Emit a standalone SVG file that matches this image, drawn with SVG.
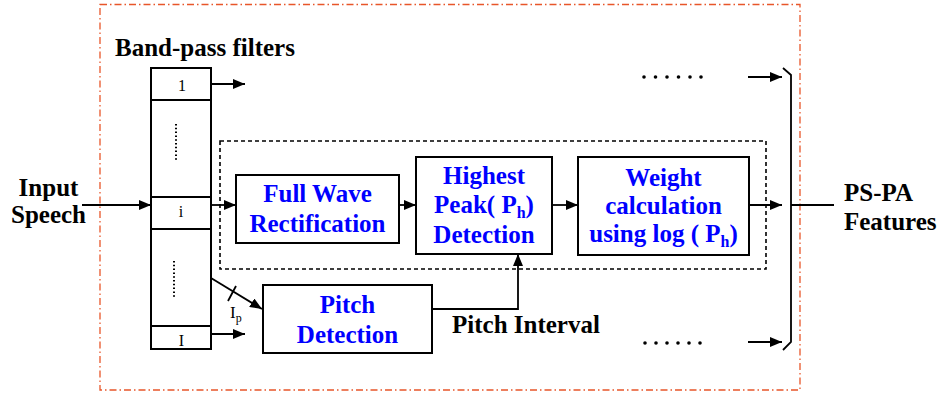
<svg xmlns="http://www.w3.org/2000/svg" width="944" height="394" viewBox="0 0 944 394">
<style>
.box{fill:#fff;stroke:#000;stroke-width:2}
.ln{fill:none;stroke:#000;stroke-width:1.8}
.lbl{font-family:'Liberation Serif',serif;font-weight:bold;font-size:25px;fill:#000}
.blue{font-family:'Liberation Serif',serif;font-weight:bold;font-size:25px;fill:#0000FF;text-anchor:middle}
.sm{font-family:'Liberation Serif',serif;font-size:16px;fill:#000;text-anchor:middle}
.dot{fill:#000}
</style>
<defs>
<marker id="ah" markerUnits="userSpaceOnUse" markerWidth="12" markerHeight="10" refX="12" refY="5" orient="auto">
<path d="M0,0 L12,5 L0,10 z" fill="#000"/>
</marker>
</defs>
<rect width="944" height="394" fill="#fff"/>
<g id="frame">
<rect x="100" y="4.5" width="700" height="385.5" fill="none" stroke="#E8562A" stroke-width="1.3" stroke-dasharray="7 3 1.5 3"/>
<rect x="220" y="141" width="546" height="128" fill="none" stroke="#000" stroke-width="1.6" stroke-dasharray="4 3"/>
</g>
<g id="bandpass">
<text class="lbl" x="115" y="56">Band-pass filters</text>
<rect class="box" x="151" y="68" width="60" height="281"/>
<line class="ln" x1="151" y1="100" x2="211" y2="100"/>
<line class="ln" x1="151" y1="197" x2="211" y2="197"/>
<line class="ln" x1="151" y1="229" x2="211" y2="229"/>
<line class="ln" x1="151" y1="326" x2="211" y2="326"/>
<text class="sm" x="182" y="91">1</text>
<text class="sm" x="181" y="217">i</text>
<text class="sm" x="181.5" y="346">I</text>
<line x1="176" y1="124" x2="176" y2="162" stroke="#000" stroke-width="2" stroke-dasharray="1.5 2.3"/>
<line x1="174" y1="261" x2="174" y2="298" stroke="#000" stroke-width="2" stroke-dasharray="1.5 2.3"/>
</g>
<g id="input">
<text class="lbl" x="48.5" y="196" text-anchor="middle">Input</text>
<text class="lbl" x="48.5" y="223" text-anchor="middle">Speech</text>
</g>
<g id="fullwave">
<rect class="box" x="236" y="175" width="163" height="68"/>
<text class="blue" x="317.5" y="202">Full Wave</text>
<text class="blue" x="317.5" y="232">Rectification</text>
</g>
<g id="highest">
<rect class="box" x="416" y="157" width="136" height="97"/>
<text class="blue" x="484" y="184">Highest</text>
<text class="blue" x="484" y="213">Peak( P<tspan font-size="16" dy="5">h</tspan><tspan dy="-5">)</tspan></text>
<text class="blue" x="484" y="243">Detection</text>
</g>
<g id="weight">
<rect class="box" x="578" y="157" width="171" height="98"/>
<text class="blue" x="663.5" y="186">Weight</text>
<text class="blue" x="663.5" y="214">calculation</text>
<text class="blue" x="663.5" y="242">using log ( P<tspan font-size="16" dy="5">h</tspan><tspan dy="-5">)</tspan></text>
</g>
<g id="pitch">
<rect class="box" x="263" y="285" width="169" height="68"/>
<text class="blue" x="347.5" y="313">Pitch</text>
<text class="blue" x="347.5" y="343">Detection</text>
</g>
<g id="output">
<text class="lbl" x="844" y="201">PS-PA</text>
<text class="lbl" x="844" y="230">Features</text>
</g>
<g id="connectors">
<line class="ln" x1="82" y1="205" x2="151" y2="205" marker-end="url(#ah)"/>
<line class="ln" x1="211" y1="84" x2="245" y2="84" marker-end="url(#ah)"/>
<line class="ln" x1="211" y1="205" x2="236" y2="205" marker-end="url(#ah)"/>
<line class="ln" x1="211" y1="334" x2="245" y2="334" marker-end="url(#ah)"/>
<line class="ln" x1="211" y1="278" x2="262" y2="309" marker-end="url(#ah)"/>
<line class="ln" x1="228" y1="301" x2="236" y2="286"/>
<text font-family="'Liberation Serif', serif" font-size="17" x="230" y="318">I<tspan font-size="12" dy="4">p</tspan></text>
<line class="ln" x1="399" y1="205" x2="416" y2="205" marker-end="url(#ah)"/>
<line class="ln" x1="552" y1="205" x2="578" y2="205" marker-end="url(#ah)"/>
<line class="ln" x1="749" y1="205" x2="782" y2="205" marker-end="url(#ah)"/>
<polyline class="ln" points="432,309 518,309 518,254" marker-end="url(#ah)"/>
<text class="lbl" x="452" y="333">Pitch Interval</text>
<path class="ln" d="M783,68 L791,75 L791,342 L783,350" stroke-width="2"/>
<line class="ln" x1="791" y1="205" x2="834" y2="205"/>
<line class="ln" x1="748" y1="77" x2="782" y2="77" marker-end="url(#ah)"/>
<line class="ln" x1="748" y1="342" x2="782" y2="342" marker-end="url(#ah)"/>
<g class="dot">
<circle cx="644" cy="77" r="1.8"/><circle cx="655.5" cy="77" r="1.8"/><circle cx="667" cy="77" r="1.8"/><circle cx="678.5" cy="77" r="1.8"/><circle cx="690" cy="77" r="1.8"/><circle cx="701" cy="77" r="1.8"/>
<circle cx="645" cy="343" r="1.8"/><circle cx="656" cy="343" r="1.8"/><circle cx="667" cy="343" r="1.8"/><circle cx="678" cy="343" r="1.8"/><circle cx="689" cy="343" r="1.8"/><circle cx="700" cy="343" r="1.8"/>
</g>
</g>
</svg>
